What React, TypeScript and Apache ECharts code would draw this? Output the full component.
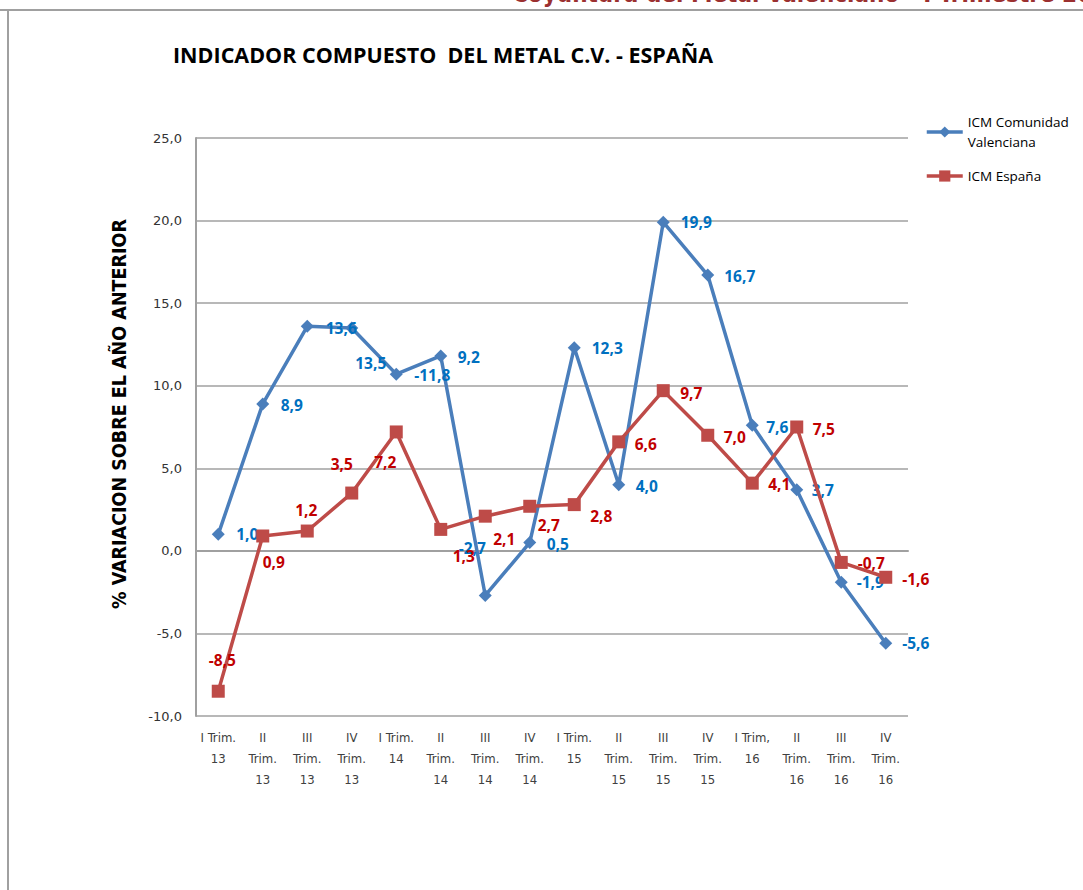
import React, { useEffect, useRef } from "react";
import * as echarts from "echarts";

const categories = [
  "I Trim.\n13", "II\nTrim.\n13", "III\nTrim.\n13", "IV\nTrim.\n13",
  "I Trim.\n14", "II\nTrim.\n14", "III\nTrim.\n14", "IV\nTrim.\n14",
  "I Trim.\n15", "II\nTrim.\n15", "III\nTrim.\n15", "IV\nTrim.\n15",
  "I Trim,\n16", "II\nTrim.\n16", "III\nTrim.\n16", "IV\nTrim.\n16",
];

const valencia = [1.0, 8.9, 13.6, 13.5, 10.7, 11.8, -2.7, 0.5, 12.3, 4.0, 19.9, 16.7, 7.6, 3.7, -1.9, -5.6];
const espana = [-8.5, 0.9, 1.2, 3.5, 7.2, 1.3, 2.1, 2.7, 2.8, 6.6, 9.7, 7.0, 4.1, 7.5, -0.7, -1.6];

const valenciaLabels = ["1,0", "8,9", "13,6", "13,5", "-11,8", "9,2", "-2,7", "0,5", "12,3", "4,0", "19,9", "16,7", "7,6", "3,7", "-1,9", "-5,6"];
const espanaLabels = ["-8,5", "0,9", "1,2", "3,5", "7,2", "1,3", "2,1", "2,7", "2,8", "6,6", "9,7", "7,0", "4,1", "7,5", "-0,7", "-1,6"];

const valenciaLabelOffsets = [
  [29, 0], [29, 1], [34, 2], [19, 35], [36, 1], [28, 1], [-13, -47], [28, 1],
  [33, 0], [28, 1], [33, 0], [32, 1], [25, 2], [26, 0], [29, 0], [30, 0],
];
const espanaLabelOffsets = [
  [4, -31], [11, 26], [-1, -21], [-10, -29], [-11, 30], [23, 27], [19, 23], [19, 19],
  [27, 11], [27, 2], [28, 2], [27, 2], [27, 1], [27, 2], [30, 1], [30, 2],
];

const yTicks = { min: -10, max: 25, interval: 5 };

const BLUE = "#4A7EBB";
const RED = "#BE4B48";
const BLUE_TXT = "#0070C0";
const RED_TXT = "#C00000";

export default function App() {
  const ref = useRef<HTMLDivElement>(null);
  useEffect(() => {
    if (!ref.current) return;
    const chart = echarts.init(ref.current, null, { renderer: "svg" });
    const labelFont = { fontFamily: "Open Sans", fontWeight: "bold" as const, fontSize: 15.5 };
    chart.setOption({
      animation: false,
      backgroundColor: "#ffffff",
      title: {
        text: "INDICADOR COMPUESTO  DEL METAL C.V. - ESPAÑA",
        left: 168,
        top: 38,
        textStyle: { fontFamily: "Open Sans", fontWeight: "bold", fontSize: 21.5, color: "#000" },
      },
      graphic: [
        {
          type: "text",
          left: 512,
          top: -18,
          style: {
            text: "Coyuntura del Metal Valenciano - I Trimestre 2016",
            fontFamily: "Liberation Sans Narrow, DejaVu Sans Condensed, sans-serif",
            fontWeight: "bold",
            fontSize: 24,
            fill: "#9B3030",
          },
        },
        { type: "line", shape: { x1: 0, y1: 10, x2: 1083, y2: 10 }, style: { stroke: "#A0A0A0", lineWidth: 2 } },
        { type: "line", shape: { x1: 8, y1: 10, x2: 8, y2: 890 }, style: { stroke: "#A0A0A0", lineWidth: 2 } },
      ],
      legend: {
        orient: "vertical",
        left: 925,
        top: 102,
        padding: 0,
        itemWidth: 36,
        itemHeight: 14,
        itemGap: 4,
        lineStyle: { width: 3.5 },
        textStyle: { fontFamily: "Open Sans", fontSize: 13.5, color: "#000", lineHeight: 20 },
        data: [
          { name: "ICM Comunidad\nValenciana", textStyle: { padding: [20, 0, 0, 0] } },
          { name: "ICM España" },
        ],
      },
      grid: { left: 196, right: 175, top: 138, bottom: 174, containLabel: false },
      xAxis: {
        type: "category",
        data: categories,
        boundaryGap: true,
        axisLine: { show: true, lineStyle: { color: "#A0A0A0", width: 2 } },
        axisTick: { show: false },
        axisLabel: {
          interval: 0,
          margin: 11,
          fontFamily: "Liberation Sans Narrow, DejaVu Sans Condensed, sans-serif",
          fontSize: 13,
          lineHeight: 21,
          color: "#404040",
        },
      },
      yAxis: {
        type: "value",
        min: yTicks.min,
        max: yTicks.max,
        interval: yTicks.interval,
        name: "% VARIACION SOBRE EL AÑO ANTERIOR",
        nameLocation: "middle",
        nameRotate: 90,
        nameGap: 67,
        nameTextStyle: {
          fontFamily: "Liberation Sans Narrow, DejaVu Sans Condensed, sans-serif",
          fontWeight: "bold",
          fontSize: 19.5,
          color: "#000",
          padding: [0, 0, 0, 26],
        },
        axisLine: { show: true, lineStyle: { color: "#A0A0A0", width: 2 } },
        axisTick: { show: false },
        splitLine: { show: true, lineStyle: { color: "#A0A0A0", width: 1.5 } },
        axisLabel: {
          margin: 14,
          fontFamily: "DejaVu Sans",
          fontSize: 13,
          color: "#333",
          formatter: (v: number) => v.toFixed(1).replace(".", ","),
        },
      },
      series: [
        {
          name: "ICM Comunidad\nValenciana",
          type: "line",
          data: valencia.map((v, i) => ({
            value: v,
            label: { formatter: valenciaLabels[i], offset: valenciaLabelOffsets[i] },
          })),
          symbol: "diamond",
          symbolSize: 13,
          itemStyle: { color: BLUE },
          lineStyle: { color: BLUE, width: 3.5 },
          label: { show: true, position: "inside", color: BLUE_TXT, ...labelFont },
          z: 2,
        },
        {
          name: "ICM España",
          type: "line",
          data: espana.map((v, i) => ({
            value: v,
            label: { formatter: espanaLabels[i], offset: espanaLabelOffsets[i] },
          })),
          symbol: "rect",
          symbolSize: 13,
          itemStyle: { color: RED },
          lineStyle: { color: RED, width: 3.5 },
          label: { show: true, position: "inside", color: RED_TXT, ...labelFont },
          z: 3,
        },
      ],
    });
    return () => chart.dispose();
  }, []);
  return (
    <div
      ref={ref}
      style={{ position: "fixed", left: 0, top: 0, width: 1083, height: 890 }}
    />
  );
}
